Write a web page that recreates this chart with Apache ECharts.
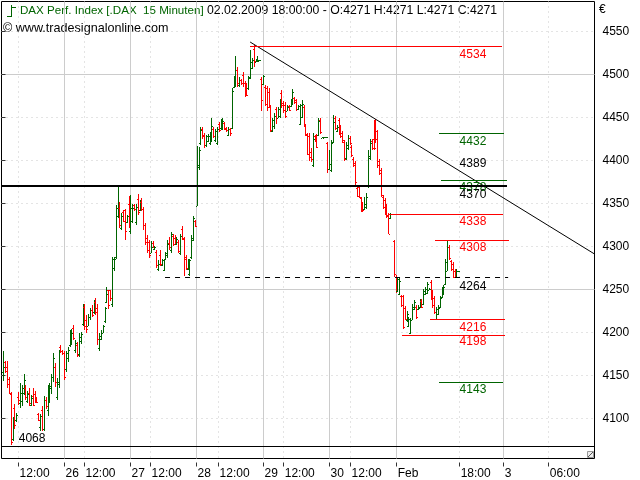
<!DOCTYPE html>
<html><head><meta charset="utf-8">
<style>html,body{margin:0;padding:0;background:#fff}#c{width:640px;height:480px}</style>
<script src="https://cdn.jsdelivr.net/npm/echarts@6/dist/echarts.min.js"></script>
</head><body><div id="c"></div>
<script>
// Slot 0 is empty; one slot = 15 minutes of trading time.
const highs=[null,
4179,4167,4167,4148,4131,4102,4117,4106,4131,4141,
4139,4152,4139,4132,4135,4127,4135,4132,4125,4106,
4105,4114,4126,4125,4139,4141,4152,4176,4164,4147,
4180,4185,4180,4179,4178,4183,4203,4204,4209,4191,
4189,4199,4201,4233,4233,4220,4222,4228,4232,4238,
4240,4233,4199,4203,4209,4230,4253,4250,4250,4288,
4288,4348,4370,
4352,4339,4343,4344,4337,4359,4360,4350,4350,4350,
4361,4354,4356,4346,4327,4313,4308,4306,4306,4301,
4296,4284,4296,4286,4286,4294,4308,4311,4317,4315,
4313,4311,4308,4315,4324,4311,4290,4285,4286,4313,
4335,4331,
4417,4416,4439,4439,4432,4430,4431,4433,4449,4439,
4437,4439,4445,4448,4449,4445,4439,4439,4438,4484,
4498,4521,4509,4497,4495,4503,4492,4490,4498,4528,
4519,4534,4518,4521,4517,
4497,4500,4488,4487,4484,4464,4449,4455,4462,4462,
4471,4482,4469,4468,4464,4464,4472,4483,4474,4472,
4464,4466,4470,4464,4441,4432,4432,4415,4432,4430,
4431,4449,4449,4427,4427,4427,4422,4412,4424,4453,
4452,4441,4449,4441,4434,4424,4422,4430,4428,4418,
4404,4399,4370,4371,4358,4352,4358,4362,4412,4425,
4425,4447,4448,4436,4402,4391,4360,4356,4350,4339,
4339,null,
4308,4267,4265,4263,4244,4244,4231,4225,4218,4217,
4233,4238,4232,4232,4239,4239,4251,4253,4259,4252,
4261,4250,4242,4230,4232,4242,4253,4255,4285,4308,
4302,4284,4282,4274,4274,4271];
const lows=[null,
4144,4153,4135,4128,4069,4074,4088,4096,4116,4112,
4114,4127,4121,4118,4114,4114,4114,4118,4118,4097,
4086,4086,4085,4111,4103,4118,4129,4143,4137,4121,
4135,4176,4174,4145,4154,4166,4183,4185,4191,4176,
4171,4171,4187,4207,4203,4200,4207,4215,4218,4222,
4220,4185,4179,4191,4199,4211,4234,4227,4237,4230,
4271,4286,4333,
4321,4319,4328,4308,4327,4321,4315,4327,4341,4325,
4337,4341,4341,4319,4302,4292,4287,4292,4298,4296,
4275,4272,4277,4277,4271,4284,4287,4296,4292,4301,
4302,4302,4292,4290,4308,4266,4273,4273,4266,4286,
4306,4323,
4347,4389,4418,4425,4415,4416,4422,4418,4422,4426,
4422,4418,4433,4437,4435,4435,4433,4428,4429,4437,
4484,4486,4486,4486,4488,4486,4474,4475,4482,4495,
4506,4509,4515,4515,4516,
4457,4488,4463,4457,4461,4433,4433,4437,4443,4449,
4450,4461,4455,4449,4457,4457,4462,4464,4466,4457,
4459,4441,4449,4439,4428,4406,4400,4398,4393,4422,
4414,4428,4431,4426,4426,4427,4386,4389,4387,4420,
4435,4433,4430,4426,4420,4399,4401,4412,4418,4404,
4393,4370,4357,4356,4340,4340,4342,4344,4368,4401,
4412,4412,4420,4391,4383,4358,4344,4337,4333,4314,
4332,null,
4265,4246,4247,4244,4230,4204,4214,4212,4206,4198,
4214,4226,4216,4226,4228,4228,4232,4244,4245,4249,
4238,4229,4222,4215,4220,4228,4240,4244,4255,4271,
4284,4271,4263,4263,4263,4271];
const opens=[null,
4154,4166,4160,4146,4128,4076,4112,4098,4125,4118,
4120,4130,4135,4120,4130,4116,4126,4128,4124,4105,
4090,4110,4088,4122,4110,4122,4135,4148,4160,4125,
4140,4183,4179,4176,4158,4170,4185,4190,4205,4180,
4186,4175,4190,4210,4230,4215,4208,4218,4226,4224,
4236,4228,4182,4193,4200,4213,4236,4249,4249,4233,
4275,4288,4335,
4345,4322,4340,4342,4328,4350,4318,4330,4348,4328,
4355,4342,4352,4344,4325,4310,4305,4293,4304,4297,
4294,4274,4290,4278,4273,4285,4290,4304,4296,4312,
4310,4303,4305,4292,4320,4309,4288,4274,4268,4288,
4308,4330,
4347,4393,4420,4437,4430,4418,4423,4420,4425,4437,
4424,4420,4443,4438,4437,4444,4438,4430,4437,4438,
4485,4490,4505,4488,4494,4500,4490,4488,4484,4497,
4508,4530,4515,4516,4516,
4495,4489,4486,4484,4480,4462,4434,4440,4460,4450,
4452,4478,4467,4465,4458,4463,4463,4466,4473,4470,
4460,4443,4451,4462,4440,4431,4428,4410,4395,4428,
4429,4430,4447,4426,4426,4427,4420,4390,4389,4422,
4450,4434,4447,4439,4432,4422,4403,4414,4426,4416,
4402,4397,4368,4369,4356,4350,4344,4346,4370,4403,
4423,4425,4446,4434,4400,4389,4358,4354,4348,4337,
4333,null,
4306,4265,4248,4245,4243,4242,4229,4214,4207,4200,
4215,4227,4230,4227,4229,4237,4233,4245,4246,4249,
4259,4248,4240,4216,4222,4229,4241,4245,4256,4272,
4300,4283,4280,4272,4264,4271];
const closes=[null,
4160,4155,4140,4130,4073,4100,4092,4104,4122,4130,
4135,4145,4125,4128,4118,4124,4116,4120,4119,4098,
4103,4088,4122,4114,4135,4138,4148,4170,4142,4143,
4178,4178,4176,4148,4176,4180,4200,4200,4194,4188,
4174,4195,4198,4230,4208,4204,4218,4226,4220,4234,
4224,4192,4196,4200,4207,4228,4245,4232,4240,4285,
4286,4345,4345,
4325,4335,4330,4318,4335,4325,4345,4345,4344,4346,
4340,4350,4344,4325,4305,4296,4290,4300,4299,4300,
4278,4280,4280,4284,4285,4292,4303,4300,4314,4303,
4304,4309,4295,4312,4310,4285,4275,4282,4284,4310,
4333,4324,
4395,4412,4436,4428,4418,4428,4429,4431,4440,4428,
4434,4437,4435,4445,4446,4437,4435,4437,4432,4481,
4495,4505,4490,4494,4490,4490,4476,4476,4496,4515,
4517,4516,4517,4517,4517,
4470,4498,4466,4462,4464,4435,4447,4452,4450,4460,
4468,4465,4459,4452,4462,4459,4470,4480,4468,4460,
4463,4464,4466,4442,4430,4408,4404,4402,4425,4423,
4416,4446,4433,4427,4427,4427,4390,4396,4420,4445,
4438,4439,4432,4428,4424,4402,4418,4426,4420,4406,
4395,4375,4359,4358,4343,4342,4350,4358,4405,4420,
4414,4415,4425,4395,4386,4360,4346,4339,4335,4314,
4338,null,
4268,4250,4262,4260,4232,4206,4216,4222,4216,4215,
4230,4236,4218,4230,4237,4230,4248,4251,4256,4251,
4241,4232,4224,4227,4230,4240,4250,4253,4282,4300,
4287,4274,4265,4265,4272,4271];

const priceTicks=[4100,4150,4200,4250,4300,4350,4400,4450,4500,4550];
const strongPriceTicks=[4250,4500];
const dayTickSlots=[33.95,69.8,105.6,142,177.9,214.3,272.4];
const dayTickLabels=['26','27','28','29','30','Feb','3'];
const hourTickSlots=[9,44.8,80.7,117.6,153,189.3,248.5,296.9];
const hourTickLabels=['12:00','12:00','12:00','12:00','12:00','12:00','18:00','06:00'];

const levelValues=[4534,4432,4389,4378,4370,4338,4308,4264,4216,4198,4143,4068];
const levelStarts=[135,237.6,null,238.7,0,210,235.5,88.8,232.8,217.5,237.6,0];
const levelEnds=[271.9,272.9,null,274.6,274,272.4,275.7,275.1,273.5,273.5,272.4,322];
const levelKinds=['r','g','k','g','k','r','r','k','r','r','g','k'];
const levelLabelSlots=[256,256,256,256,256,256,256,256,256,256,256,16.6];
const levelLabelValues=[4524,4423,4398,4370,4361,4330,4299.5,4255,4206.5,4190,4135,4078];

const trendSlots=[135,322];
const trendValues=[4537.8,4291.3];

const GREEN='#006400',RED='#ff0000',FONT='"Liberation Sans",Arial,sans-serif';
const kindColor={r:RED,g:GREEN,k:'#000000'};

const ohlcRows=[];
highs.forEach((h,i)=>{ if(h!=null) ohlcRows.push([i,opens[i],h,lows[i],closes[i]]); });
const levelRows=levelValues.map((v,i)=>[v,levelStarts[i],levelEnds[i],levelLabelSlots[i],levelLabelValues[i],i]);

function renderOhlc(p,api){
  const i=api.value(0),o=api.value(1),h=api.value(2),l=api.value(3),c=api.value(4);
  const x=Math.round(api.coord([i,h])[0]);
  const yO=Math.round(api.coord([i,o])[1]),yC=Math.round(api.coord([i,c])[1]);
  const yH=Math.round(api.coord([i,h])[1]),yL=Math.round(api.coord([i,l])[1]);
  const fill=c>=o?GREEN:RED;
  return {type:'group',children:[
    {type:'rect',shape:{x:x,y:yH,width:1,height:Math.max(1,yL-yH)},style:{fill}},
    {type:'rect',shape:{x:x-1,y:yO,width:1,height:1},style:{fill}},
    {type:'rect',shape:{x:x+1,y:yC,width:1,height:1},style:{fill}}
  ]};
}
function renderLevelLine(p,api){
  const idx=api.value(5),v=api.value(0);
  if(levelStarts[idx]==null) return null;
  const a=api.coord([levelStarts[idx],v]),b=api.coord([levelEnds[idx],v]);
  const y=Math.round(a[1]+0.3);
  const col=kindColor[levelKinds[idx]];
  if(v===4264){
    return {type:'line',shape:{x1:a[0],y1:y-0.5,x2:b[0],y2:y-0.5},style:{stroke:col,lineWidth:1,lineDash:[5,5],fill:null}};
  }
  const h=v===4370?2:1;
  return {type:'rect',shape:{x:Math.round(a[0]),y:y-(h>1?2:0),width:Math.round(b[0]-a[0]),height:h},style:{fill:col}};
}
function renderLevelLabel(p,api){
  const idx=api.value(5),v=api.value(0);
  const t=api.coord([levelLabelSlots[idx],levelLabelValues[idx]]);
  return {type:'text',x:t[0],y:t[1]+1,style:{text:String(v),fill:kindColor[levelKinds[idx]],font:'12px '+FONT,align:'center',verticalAlign:'middle'}};
}

const labelFor=(slots,labels)=>val=>{const k=slots.indexOf(val);return k<0?'':labels[k];};
const tickStyle={show:true,length:4,lineStyle:{color:'#333333',width:1}};
const X_MAX=322,Y_MIN=4053.5,Y_MAX=4584.9;

const baseX={type:'value',min:0,max:X_MAX,position:'bottom',offset:4,axisLine:{show:false}};
const option={
  animation:false,backgroundColor:'#ffffff',
  grid:{left:1.5,right:45.5,top:1.5,bottom:21.5,show:true,borderColor:'#000000',borderWidth:1,backgroundColor:'#ffffff',containLabel:false},
  xAxis:[
    Object.assign({},baseX,{
      axisTick:Object.assign({customValues:dayTickSlots},tickStyle),
      axisLabel:{customValues:dayTickSlots,formatter:labelFor(dayTickSlots,dayTickLabels),align:'left',padding:[0,0,0,1.5],margin:5,color:'#000',fontFamily:FONT,fontSize:12,hideOverlap:false},
      splitLine:{show:true,lineStyle:{color:'#cccccc',width:1}}
    }),
    Object.assign({},baseX,{
      axisTick:Object.assign({customValues:hourTickSlots},tickStyle),
      axisLabel:{customValues:hourTickSlots,formatter:labelFor(hourTickSlots,hourTickLabels),align:'left',padding:[0,0,0,1.5],margin:5,color:'#000',fontFamily:FONT,fontSize:12,hideOverlap:false},
      splitLine:{show:true,lineStyle:{color:'#c8c8c8',width:1,type:[1,4]}}
    })
  ],
  yAxis:[
    {type:'value',min:Y_MIN,max:Y_MAX,position:'right',offset:3,axisLine:{show:false},
     axisTick:Object.assign({customValues:priceTicks},tickStyle),
     axisLabel:{customValues:priceTicks,margin:5,color:'#000',fontFamily:FONT,fontSize:12,formatter:v=>String(v)},
     splitLine:{show:true,lineStyle:{color:'#c8c8c8',width:1,type:[1,4]}}},
    {type:'value',min:Y_MIN,max:Y_MAX,position:'right',axisLine:{show:false},
     axisTick:{show:false,customValues:strongPriceTicks},
     axisLabel:{show:false,customValues:strongPriceTicks},
     splitLine:{show:true,lineStyle:{color:'#cccccc',width:1}}}
  ],
  series:[
    {type:'custom',name:'DAX',data:ohlcRows,renderItem:renderOhlc,silent:true,clip:true,z:3,
     encode:{x:0,y:[1,2,3,4]}},
    {type:'line',data:trendSlots.map((s,i)=>[s,trendValues[i]]),showSymbol:false,silent:true,z:4,clip:true,
     lineStyle:{color:'#000',width:1}},
    {type:'custom',name:'levelLabels',data:levelRows,renderItem:renderLevelLabel,silent:true,clip:true,z:5,
     encode:{x:1,y:0}},
    {type:'custom',name:'levelLines',data:levelRows,renderItem:renderLevelLine,silent:true,clip:true,z:6,
     encode:{x:1,y:0}}
  ],
  graphic:[
    {type:'line',silent:true,shape:{x1:11.5,y1:5,x2:11.5,y2:17},style:{stroke:GREEN,lineWidth:1}},
    {type:'line',silent:true,shape:{x1:7,y1:16.5,x2:11.5,y2:16.5},style:{stroke:GREEN,lineWidth:1}},
    {type:'line',silent:true,shape:{x1:11.5,y1:7.5,x2:16,y2:7.5},style:{stroke:GREEN,lineWidth:1}},
    {type:'text',silent:true,x:20,y:11,style:{text:'DAX Perf. Index [.DAX  15 Minuten]',fill:GREEN,font:'11.6px '+FONT,verticalAlign:'middle'}},
    {type:'text',silent:true,x:207,y:11,style:{text:'02.02.2009 18:00:00 - O:4271 H:4271 L:4271 C:4271',fill:'#000',font:'12.25px '+FONT,verticalAlign:'middle'}},
    {type:'text',silent:true,x:3,y:29,style:{text:'© www.tradesignalonline.com',fill:'#000',font:'12.6px '+FONT,verticalAlign:'middle'}},
    {type:'text',silent:true,x:599,y:10,style:{text:'€',fill:'#000',font:'12px '+FONT,verticalAlign:'middle'}},
    {type:'rect',silent:true,shape:{x:587.5,y:451.5,width:6,height:6},style:{fill:'#eeeeee',stroke:'#999999',lineWidth:1}},
    {type:'line',silent:true,shape:{x1:588,y1:457,x2:593,y2:452},style:{stroke:'#555555',lineWidth:1}}
  ]
};
const chart=echarts.init(document.getElementById('c'),null,{renderer:'canvas'});
chart.setOption(option);
</script></body></html>
